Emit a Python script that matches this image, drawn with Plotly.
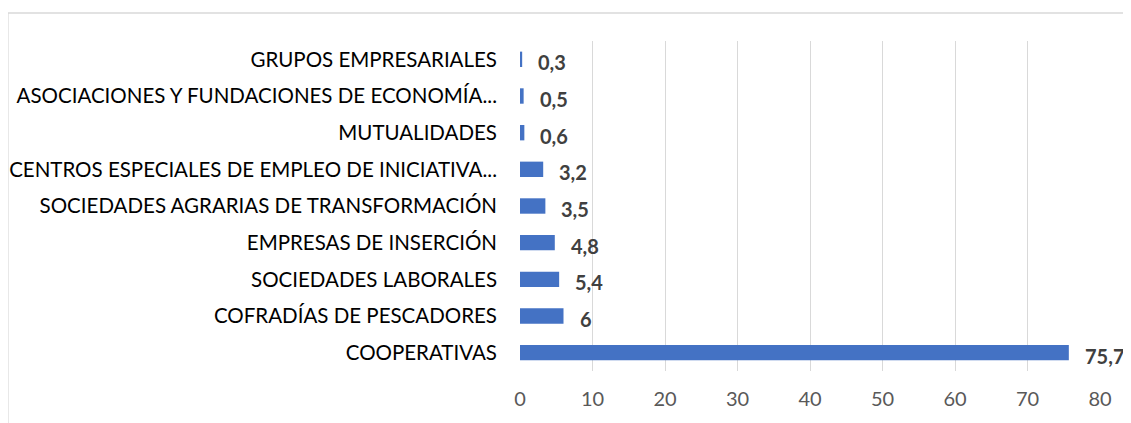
import plotly.graph_objects as go

categories = [
    "COOPERATIVAS",
    "COFRADÍAS DE PESCADORES",
    "SOCIEDADES LABORALES",
    "EMPRESAS DE INSERCIÓN",
    "SOCIEDADES AGRARIAS DE TRANSFORMACIÓN",
    "CENTROS ESPECIALES DE EMPLEO DE INICIATIVA...",
    "MUTUALIDADES",
    "ASOCIACIONES Y FUNDACIONES DE ECONOMÍA...",
    "GRUPOS EMPRESARIALES",
]
values = [75.7, 6, 5.4, 4.8, 3.5, 3.2, 0.6, 0.5, 0.3]
value_labels = ["75,7", "6", "5,4", "4,8", "3,5", "3,2", "0,6", "0,5", "0,3"]
x_ticks = [0, 10, 20, 30, 40, 50, 60, 70, 80]

FONT = "Lato"

fig = go.Figure()
fig.add_trace(go.Bar(
    y=categories, x=values, orientation="h",
    marker=dict(color="#4472C4", line=dict(width=0)),
    hoverinfo="skip",
))

for c, v, t in zip(categories, values, value_labels):
    fig.add_annotation(
        x=v, y=c, text=f"<b>{t}</b>", showarrow=False,
        xanchor="left", xshift=14, yshift=-3,
        font=dict(family=FONT, size=20, color="#404040"),
    )

fig.add_shape(
    type="rect", xref="paper", yref="paper",
    x0=-0.883, x1=1.2, y0=-0.3, y1=1.085,
    line=dict(color="#D9D9D9", width=1.5), fillcolor="rgba(0,0,0,0)",
    layer="below",
)

fig.update_layout(
    width=1123, height=415,
    margin=dict(l=512, r=31, t=33, b=52),
    paper_bgcolor="white", plot_bgcolor="white",
    bargap=0.58,
    showlegend=False,
    font=dict(family=FONT),
)
fig.update_xaxes(
    range=[0, 80], tickvals=x_ticks, ticktext=[str(t) for t in x_ticks],
    showgrid=True, gridcolor="#D9D9D9", gridwidth=1,
    zeroline=False, showline=False, automargin=False,
    tickfont=dict(family=FONT, size=20, color="#595959"),
    ticks="", ticklabelstandoff=14,
)
fig.update_yaxes(
    categoryorder="array", categoryarray=categories,
    showgrid=False, zeroline=False,
    showline=False, automargin=False,
    tickfont=dict(family=FONT, size=20.5, color="#000000"),
    ticks="", ticklabelstandoff=22,
)

fig.write_html("out.html")
